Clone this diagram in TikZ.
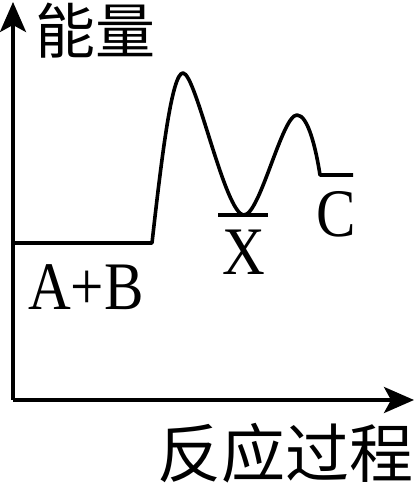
\documentclass[tikz,border=0pt]{standalone}
\usepackage{fontspec}
\usepackage{tikz}
\usetikzlibrary{arrows.meta}
\setmainfont{Liberation Serif}
\newfontfamily\cjk{Noto Sans CJK SC}
\tikzset{
    axis-line/.style = {line width=3.6pt, -{Stealth[length=30pt, width=26pt, inset=7pt]}},
    energy-line/.style = {line width=3.6pt, line join=round},
    axis-title/.style = {inner sep=0pt, font=\cjk\fontsize{60}{60}\selectfont},
    species/.style = {inner sep=0pt, anchor=base, xscale=0.87, transform shape, font=\rmfamily\fontsize{68}{68}\selectfont},
}
\begin{document}
\begin{tikzpicture}[x=1pt, y=1pt]
\useasboundingbox (0,0) rectangle (418,484);
\coordinate (origin) at (13,84);
\coordinate (ytip) at (13,482);
\coordinate (xtip) at (414,84);
\draw [axis-line] (origin) -- (ytip);
\draw [axis-line] (origin) -- (xtip);
\node [axis-title] (ylabel) at (95,453) {能量};
\node [axis-title, font=\cjk\fontsize{64}{64}\selectfont] (xlabel) at (285,31) {反应过程};
\coordinate (ab-start) at (13,241);
\coordinate (ab-end) at (152,241);
\coordinate (ts1) at (183,411);
\coordinate (x-min) at (244,269);
\coordinate (ts2) at (297,369);
\coordinate (c-start) at (320,309);
\coordinate (c-end) at (353,309);
\draw [energy-line] (ab-start) -- (ab-end)
    .. controls (162,330) and (172,411) .. (ts1)
    .. controls (196,411) and (225,269) .. (x-min)
    .. controls (260,269) and (282,369) .. (ts2)
    .. controls (308,369) and (316,335) .. (c-start)
    -- (c-end);
\draw [energy-line] (218,269) -- (268,269);
\node [species] (ab) at (86,174) {A+B};
\node [species] (x) at (244,209) {X};
\node [species] (c) at (336,247) {C};
\end{tikzpicture}
\end{document}
